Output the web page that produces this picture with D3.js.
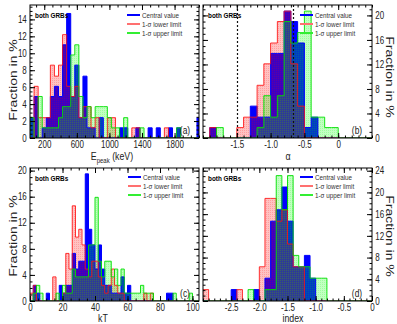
<!DOCTYPE html>
<html>
<head>
<meta charset="utf-8">
<script src="https://cdn.jsdelivr.net/npm/d3@7"></script>
<style>
  body { margin: 0; background: #fff; }
  svg { display: block; font-family: 'Liberation Sans', Arial, sans-serif; }
</style>
</head>
<body>
<svg id="chart" width="397" height="324"></svg>
<script>
// fraction in % per bin

// (a) E_peak, 50 keV bins starting at 25 keV
var epeakBinStart = 25, epeakBinWidth = 50;
var epeakCentral = [2.4, 4.9, 0, 1.2, 2.4, 4.9, 6.1, 4.9, 11.0, 14.7,
                    4.9, 8.6, 2.4, 7.3, 1.2, 1.2, 0, 2.4, 0, 0,
                    0, 0, 1.2, 1.2, 0, 0, 1.2, 0, 0, 1.2,
                    0, 1.2, 0, 0, 1.2, 0, 1.2, 0, 0, 0,
                    0, 2.4];
var epeakLower   = [0, 6.1, 2.4, 2.4, 2.4, 8.6, 7.3, 8.6, 12.2, 6.1,
                    4.9, 6.1, 2.4, 3.7, 3.7, 1.2, 2.4, 0, 0, 2.4,
                    2.4, 0, 0, 0, 0, 1.2, 1.2, 0, 0, 0,
                    0, 0, 0, 1.2, 0, 0, 0, 0, 0, 0,
                    0, 0];
var epeakUpper   = [2.4, 0, 4.9, 1.2, 1.2, 1.2, 1.2, 2.4, 3.7, 3.7,
                    9.8, 11.0, 4.9, 2.4, 3.7, 2.4, 3.7, 3.7, 3.7, 2.4,
                    1.2, 1.2, 0, 2.4, 0, 0, 0, 1.2, 0, 0,
                    0, 0, 0, 0, 0, 0, 1.2, 0, 0, 0,
                    0, 0];

// (b) alpha, 0.1 bins starting at -2.0
var alphaBinStart = -2.0, alphaBinWidth = 0.1;
var alphaCentral = [0, 1.7, 0, 0, 0, 0, 0, 5.2, 3.4, 3.4,
                    13.8, 13.8, 20.7, 19.0, 15.5, 1.7, 3.4, 0, 0, 0,
                    0, 0, 0, 0, 0];
var alphaLower   = [0, 1.7, 0, 0, 0, 1.7, 3.4, 3.4, 8.6, 12.1,
                    15.5, 19.0, 20.7, 12.1, 5.2, 0, 0, 0, 0, 0,
                    0, 0, 0, 0, 0];
var alphaUpper   = [0, 0, 1.7, 0, 0, 0, 0, 0, 1.7, 6.9,
                    3.4, 6.9, 19.0, 15.5, 17.2, 20.7, 3.4, 3.4, 1.7, 1.7,
                    0, 0, 0, 0, 0];
var alphaRefLines = [-1.5, -2 / 3];

// (c) kT, 2 keV bins starting at 0
var ktBinStart = 0, ktBinWidth = 2;
var ktCentral = [0, 2.4, 1.2, 0, 0, 1.2, 0, 0, 0, 2.4,
                 1.2, 2.4, 2.4, 7.3, 4.9, 6.1, 6.1, 19.5, 11.0, 8.6,
                 4.9, 8.6, 4.9, 2.4, 2.4, 1.2, 1.2, 1.2, 3.7, 1.2,
                 2.4, 0, 0, 0, 0, 0, 0, 0, 0, 0,
                 0, 0, 1.2, 1.2, 0, 0, 0, 0, 0, 0,
                 0, 0];
var ktLower   = [1.2, 2.4, 0, 0, 0, 0, 0, 3.7, 0, 0,
                 1.2, 7.3, 4.9, 14.6, 9.8, 11.0, 8.6, 4.9, 3.7, 6.1,
                 6.1, 3.7, 2.4, 1.2, 2.4, 4.9, 2.4, 1.2, 1.2, 0,
                 0, 0, 0, 0, 0, 1.2, 0, 1.2, 0, 0,
                 0, 0, 0, 0, 0, 0, 0, 0, 0, 0,
                 0, 0];
var ktUpper   = [0, 1.2, 2.4, 1.2, 0, 0, 0, 0, 1.2, 0,
                 2.4, 1.2, 1.2, 4.9, 3.7, 3.7, 3.7, 3.7, 8.6, 8.6,
                 15.9, 6.1, 3.7, 6.1, 6.1, 3.7, 4.9, 2.4, 4.9, 1.2,
                 1.2, 1.2, 1.2, 1.2, 2.4, 1.2, 1.2, 1.2, 0, 0,
                 0, 0, 0, 0, 1.2, 0, 0, 0, 0, 1.2,
                 0, 0];

// (d) index, 0.1 bins starting at -3.0
var indexBinStart = -3.0, indexBinWidth = 0.1;
var indexCentral = [0, 0, 0, 0, 0, 2.1, 0, 0, 0, 2.1,
                    0, 4.2, 14.7, 16.8, 21.0, 14.7, 6.3, 6.3, 8.4, 4.2,
                    0, 0, 0, 0, 0, 0, 0, 0, 0, 0];
var indexLower   = [2.1, 0, 0, 0, 0, 0, 2.1, 0, 0, 0,
                    6.3, 18.9, 18.9, 14.7, 16.8, 10.5, 6.3, 6.3, 0, 0,
                    0, 0, 0, 0, 0, 0, 0, 0, 0, 0];
var indexUpper   = [0, 0, 0, 0, 0, 0, 0, 0, 2.1, 0,
                    0, 2.1, 2.1, 23.1, 16.8, 23.1, 8.4, 6.3, 6.3, 4.2,
                    4.2, 4.2, 0, 0, 0, 0, 0, 0, 0, 0];

var epeakTicks = [200, 600, 1000, 1400, 1800];
var alphaTicks = [-1.5, -1.0, -0.5, 0];
var ktTicks = [0, 20, 40, 60, 80, 100];
var indexTicks = [-2.5, -2.0, -1.5, -1.0, -0.5, 0];
var fracTicksA = [0, 2, 4, 6, 8, 10, 12, 14];
var fracTicksBC = [0, 4, 8, 12, 16, 20];
var fracTicksD = [0, 4, 8, 12, 16, 20, 24];
var legendLabels = ['Central value', '1-\u03c3 lower limit', '1-\u03c3 upper limit'];

var BLUE = '#0000ff', RED = '#ff1010', GREEN = '#00e000';
var plotW = 169, plotH = 133;

var svg = d3.select('#chart');
var defs = svg.append('defs');

function hatch(id, rgb) {
  var pat = defs.append('pattern').attr('id', id)
    .attr('patternUnits', 'userSpaceOnUse').attr('width', 2).attr('height', 2);
  pat.append('rect').attr('width', 2).attr('height', 2)
    .attr('fill', 'rgb(' + rgb + ')').attr('fill-opacity', 0.24);
  pat.append('rect').attr('width', 1).attr('height', 1)
    .attr('fill', 'rgb(' + rgb + ')').attr('fill-opacity', 0.18);
}
hatch('hatchRed', '255,0,0');
hatch('hatchGreen', '0,255,0');

// squeezed text, the figure is narrower than its fonts
function label(g, x, y, str, size, opts) {
  opts = opts || {};
  var tf = 'translate(' + x + ',' + y + ')';
  if (opts.rotate) tf += ' rotate(' + opts.rotate + ') scale(1,' + (opts.sq || 0.8) + ')';
  else tf += ' scale(' + (opts.sq || 0.8) + ',1)';
  return g.append('text')
    .attr('transform', tf)
    .attr('font-size', size)
    .attr('text-anchor', opts.anchor || 'start')
    .attr('font-weight', opts.weight || 'normal')
    .attr('fill', opts.fill || '#222')
    .text(str);
}

function steps(p, values) {
  var pts = [[p.binStart, 0]];
  values.forEach(function(v, i) { pts.push([p.binStart + i * p.binWidth, v]); });
  var end = p.binStart + values.length * p.binWidth;
  pts.push([end, values[values.length - 1]]);
  pts.push([end, 0]);
  return pts;
}

function minorValues(domain, step) {
  var first = Math.ceil(domain[0] / step - 1e-6);
  var last = Math.floor(domain[1] / step + 1e-6);
  return d3.range(first, last + 1).map(function(i) { return +(i * step).toFixed(6); });
}

function styleAxis(sel) {
  sel.select('.domain').remove();
  sel.selectAll('line').attr('stroke', '#000');
  sel.selectAll('text').attr('font-size', 10).attr('fill', '#222')
    .attr('font-family', "'Liberation Sans', Arial, sans-serif")
    .attr('transform', 'scale(0.8,1)');
}

function drawPanel(p) {
  var g = svg.append('g');
  var left = p.left, top = p.top, right = left + plotW, bottom = top + plotH;
  var x = d3.scaleLinear().domain(p.xDomain).range([left, right]);
  var y = d3.scaleLinear().domain(p.yDomain).range([bottom, top]);

  defs.append('clipPath').attr('id', 'clip' + p.name).append('rect')
    .attr('x', left).attr('y', top).attr('width', plotW).attr('height', plotH);
  var body = g.append('g').attr('clip-path', 'url(#clip' + p.name + ')');

  var series = [
    {values: p.central, fill: BLUE, stroke: BLUE, op: 1},
    {values: p.lower, fill: 'url(#hatchRed)', stroke: RED, op: 0.85},
    {values: p.upper, fill: 'url(#hatchGreen)', stroke: GREEN, op: 0.9}
  ];
  series.forEach(function(s) { s.pts = steps(p, s.values); });

  var area = d3.area().curve(d3.curveStepAfter)
    .x(function(d) { return x(d[0]); })
    .y0(y(0))
    .y1(function(d) { return y(d[1]); });
  var line = d3.line().curve(d3.curveStepAfter)
    .x(function(d) { return x(d[0]); })
    .y(function(d) { return y(d[1]); });

  body.selectAll('path.fill').data(series).enter().append('path')
    .attr('class', 'fill')
    .attr('d', function(d) { return area(d.pts); })
    .attr('fill', function(d) { return d.fill; });
  body.selectAll('path.edge').data(series).enter().append('path')
    .attr('class', 'edge')
    .attr('d', function(d) { return line(d.pts); })
    .attr('fill', 'none')
    .attr('stroke', function(d) { return d.stroke; })
    .attr('stroke-opacity', function(d) { return d.op; })
    .attr('stroke-width', 1);

  (p.refLines || []).forEach(function(v) {
    body.append('line')
      .attr('x1', Math.round(x(v)) + 0.5).attr('x2', Math.round(x(v)) + 0.5)
      .attr('y1', top).attr('y2', bottom)
      .attr('stroke', '#111').attr('stroke-width', 1.2).attr('stroke-dasharray', '2,2');
  });

  g.append('rect').attr('x', left).attr('y', top).attr('width', plotW).attr('height', plotH)
    .attr('fill', 'none').attr('stroke', '#000').attr('stroke-width', 1);

  // x axes, inward ticks top and bottom
  var xMinor = minorValues(p.xDomain, p.xMinor);
  g.append('g').attr('transform', 'translate(0,' + bottom + ')')
    .call(d3.axisBottom(x).tickValues(p.xTicks).tickSize(-5).tickPadding(3).tickFormat(p.xFormat))
    .call(styleAxis);
  g.append('g').attr('transform', 'translate(0,' + bottom + ')')
    .call(d3.axisBottom(x).tickValues(xMinor).tickSize(-2.5).tickFormat(''))
    .call(styleAxis);
  g.append('g').attr('transform', 'translate(0,' + top + ')')
    .call(d3.axisTop(x).tickValues(p.xTicks).tickSize(-5).tickFormat(''))
    .call(styleAxis);
  g.append('g').attr('transform', 'translate(0,' + top + ')')
    .call(d3.axisTop(x).tickValues(xMinor).tickSize(-2.5).tickFormat(''))
    .call(styleAxis);

  // y axes, labels on one side
  var yMinor = minorValues(p.yDomain, p.yMinor);
  var labelled = p.ySide === 'left' ? d3.axisLeft : d3.axisRight;
  var other = p.ySide === 'left' ? d3.axisRight : d3.axisLeft;
  var lx = p.ySide === 'left' ? left : right;
  var ox = p.ySide === 'left' ? right : left;
  g.append('g').attr('transform', 'translate(' + lx + ',0)')
    .call(labelled(y).tickValues(p.yTicks).tickSize(-5).tickPadding(4).tickFormat(d3.format('d')))
    .call(styleAxis);
  g.append('g').attr('transform', 'translate(' + lx + ',0)')
    .call(labelled(y).tickValues(yMinor).tickSize(-2.5).tickFormat(''))
    .call(styleAxis);
  g.append('g').attr('transform', 'translate(' + ox + ',0)')
    .call(other(y).tickValues(p.yTicks).tickSize(-5).tickFormat(''))
    .call(styleAxis);
  g.append('g').attr('transform', 'translate(' + ox + ',0)')
    .call(other(y).tickValues(yMinor).tickSize(-2.5).tickFormat(''))
    .call(styleAxis);

  // titles
  var yt = p.yTitle;
  label(g, yt[0], yt[1], 'Fraction in %', 14, {anchor: 'middle', rotate: yt[2]});
  var xt = label(g, p.xTitle[0], p.xTitle[1], '', 11, {anchor: 'middle'});
  p.xTitleParts.forEach(function(part) {
    var ts = xt.append('tspan').text(part.text);
    if (part.sub) ts.attr('font-size', 7.5).attr('dy', 2.5);
    if (part.back) ts.attr('dy', -2.5);
  });

  label(g, left + 5, p.top + 13, 'both GRBs', 7.5, {weight: 'bold', fill: '#000', sq: 0.85});

  var lg = g.append('g');
  [BLUE, '#ff7070', '#33ee33'].forEach(function(c, i) {
    var ly = p.legend[1] + i * 9;
    lg.append('line').attr('x1', p.legend[0]).attr('x2', p.legend[0] + 13)
      .attr('y1', ly).attr('y2', ly).attr('stroke', c).attr('stroke-width', 2);
    label(lg, p.legend[0] + 15, ly + 2.5, legendLabels[i], 7, {fill: '#333', sq: 0.9});
  });

  label(g, p.tagPos[0], p.tagPos[1], p.tag, 10.5, {anchor: 'middle', fill: '#222'});
}

function fixed1(d) { return d === 0 ? '0' : d.toFixed(1); }

var panels = [
  {name: 'a', left: 30, top: 5, binStart: epeakBinStart, binWidth: epeakBinWidth,
   xDomain: [25, 2100], yDomain: [0, 15.7],
   central: epeakCentral, lower: epeakLower, upper: epeakUpper,
   xTicks: epeakTicks, xMinor: 100, xFormat: d3.format('d'),
   yTicks: fracTicksA, yMinor: 0.5, ySide: 'left',
   yTitle: [17, 80, -90], xTitle: [112, 160],
   xTitleParts: [{text: 'E'}, {text: 'peak', sub: true}, {text: ' (keV)', back: true}],
   legend: [127, 15], tag: '(a)', tagPos: [185, 134]},
  {name: 'b', left: 203, top: 5, binStart: alphaBinStart, binWidth: alphaBinWidth,
   xDomain: [-2.0, 0.5], yDomain: [0, 21.7],
   central: alphaCentral, lower: alphaLower, upper: alphaUpper, refLines: alphaRefLines,
   xTicks: alphaTicks, xMinor: 0.1, xFormat: fixed1,
   yTicks: fracTicksBC, yMinor: 1, ySide: 'right',
   yTitle: [386, 77, 90], xTitle: [288, 160],
   xTitleParts: [{text: '\u03b1'}],
   legend: [300, 15], tag: '(b)', tagPos: [357, 134]},
  {name: 'c', left: 30, top: 168, binStart: ktBinStart, binWidth: ktBinWidth,
   xDomain: [0, 104], yDomain: [0, 20.4],
   central: ktCentral, lower: ktLower, upper: ktUpper,
   xTicks: ktTicks, xMinor: 5, xFormat: d3.format('d'),
   yTicks: fracTicksBC, yMinor: 1, ySide: 'left',
   yTitle: [17, 236, -90], xTitle: [103, 322],
   xTitleParts: [{text: 'kT'}],
   legend: [128, 177], tag: '(c)', tagPos: [185, 297]},
  {name: 'd', left: 203, top: 168, binStart: indexBinStart, binWidth: indexBinWidth,
   xDomain: [-3.0, 0], yDomain: [0, 24.5],
   central: indexCentral, lower: indexLower, upper: indexUpper,
   xTicks: indexTicks, xMinor: 0.1, xFormat: fixed1,
   yTicks: fracTicksD, yMinor: 1, ySide: 'right',
   yTitle: [386, 236, 90], xTitle: [293, 322],
   xTitleParts: [{text: 'index'}],
   legend: [300, 177], tag: '(d)', tagPos: [357, 297]}
];

panels.forEach(drawPanel);
</script>
</body>
</html>
